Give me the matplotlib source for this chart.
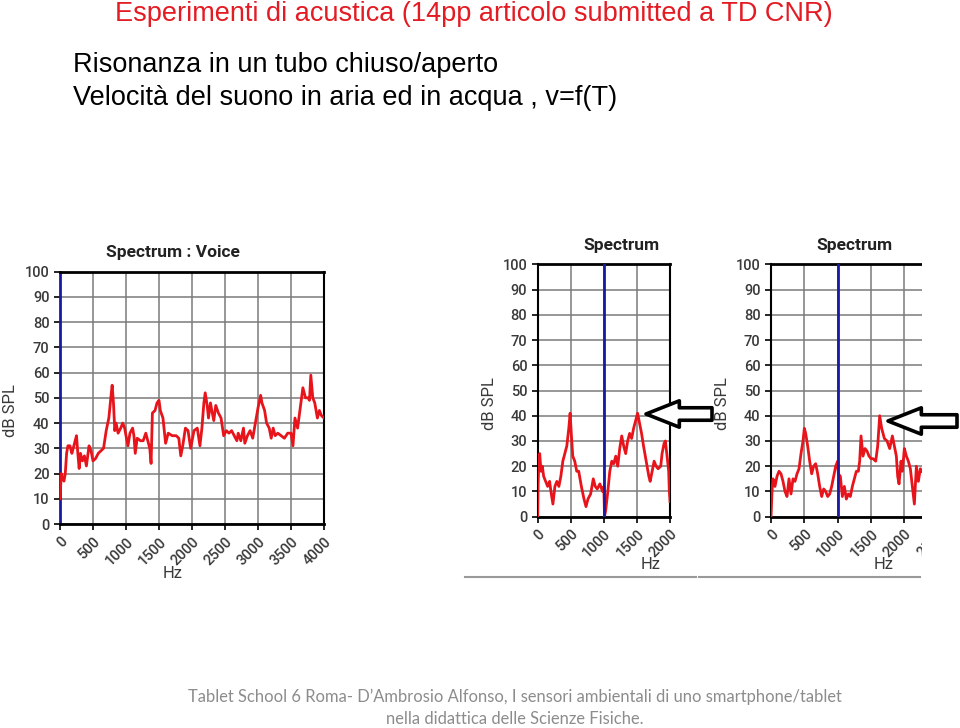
import matplotlib
matplotlib.use("Agg")
import matplotlib.pyplot as plt
from matplotlib.lines import Line2D
from matplotlib.patches import Rectangle
from matplotlib.text import Annotation

# voice spectrum (Hz, dB SPL)
f1 = [0, 20, 40, 60, 80, 100, 120, 150, 180, 200, 230, 250, 270, 290, 310, 340, 370, 400, 420, 440,
      470, 500, 540, 580, 620, 660, 700, 740, 770, 790, 810, 830, 850, 880, 920, 950, 980, 1000, 1030,
      1060, 1100, 1120, 1140, 1170, 1220, 1260, 1300, 1330, 1360, 1380, 1400, 1440, 1470, 1500, 1520,
      1560, 1600, 1640, 1700, 1760, 1800, 1830, 1860, 1900, 1940, 1980, 2030, 2080, 2120, 2150, 2180,
      2200, 2230, 2250, 2280, 2300, 2330, 2360, 2400, 2440, 2480, 2520, 2560, 2600, 2640, 2680, 2700,
      2740, 2780, 2800, 2840, 2880, 2920, 2960, 3000, 3040, 3060, 3100, 3130, 3170, 3200, 3230, 3260,
      3300, 3350, 3400, 3450, 3500, 3530, 3560, 3600, 3640, 3680, 3720, 3760, 3780, 3800, 3830, 3860,
      3900, 3930, 3960, 4000]
db1 = [10, 20, 18, 17, 20, 28, 31, 31, 28, 30, 33, 35, 28, 22, 28, 25, 27, 23, 27, 31,
       29, 25, 26, 28, 29, 30, 37, 42, 50, 55, 48, 37, 40, 36, 38, 40, 38, 35, 31,
       36, 38, 35, 28, 34, 33, 33, 36, 33, 30, 24, 44, 45, 48, 49, 45,
       42, 32, 36, 35, 35, 34, 27, 31, 38, 37, 30, 37, 38, 31, 38, 48,
       52, 47, 42, 48, 45, 41, 47, 44, 42, 35, 37, 36, 37, 35, 33, 36,
       33, 38, 32, 35, 37, 34, 40, 46, 51, 48, 45, 40, 38, 34, 38, 35,
       36, 35, 34, 36, 36, 31, 42, 38, 46, 54, 50, 50, 49, 59, 50, 48,
       42, 45, 43, 42]

# tube spectrum 1
f2 = [0, 5, 15, 30, 50, 70, 90, 120, 150, 180, 200, 230, 260, 290, 320, 350, 380, 410, 440, 470,
      490, 510, 530, 560, 590, 620, 660, 700, 730, 760, 800, 840, 870, 900, 940, 980, 1000, 1010,
      1030, 1060, 1090, 1120, 1150, 1180, 1210, 1240, 1270, 1300, 1330, 1360, 1390, 1420, 1450,
      1480, 1510, 1540, 1570, 1600, 1640, 1680, 1700, 1730, 1760, 1790, 1820, 1860, 1880, 1910,
      1930, 1960, 1980, 1990, 2000]
db2 = [0, 12, 20, 25, 18, 20, 16, 14, 12, 14, 10, 5, 12, 14, 12, 16, 22, 25, 28, 35,
       41, 32, 24, 22, 18, 18, 12, 7, 4, 7, 9, 15, 12, 11, 13, 10, 12, 0,
       3, 10, 18, 22, 21, 24, 20, 27, 32, 28, 25, 30, 33, 31, 35,
       38, 41, 37, 33, 28, 22, 16, 14, 18, 22, 20, 19, 20, 25, 29,
       30, 23, 18, 10, 6]

# tube spectrum 2
f3 = [0, 15, 30, 60, 90, 120, 150, 180, 210, 240, 270, 300, 330, 360, 390, 420, 450, 480, 500, 520,
      550, 580, 610, 640, 670, 700, 730, 760, 790, 820, 850, 880, 910, 940, 970, 1000, 1010, 1040,
      1070, 1100, 1130, 1160, 1190, 1220, 1250, 1280, 1310, 1330, 1350, 1380, 1410, 1440, 1470,
      1500, 1530, 1570, 1600, 1630, 1660, 1700, 1740, 1780, 1820, 1850, 1880, 1900, 1920, 1950,
      1970, 2000, 2030, 2060, 2090, 2120, 2150, 2180, 2210, 2240, 2260]
db3 = [0, 10, 15, 12, 16, 18, 17, 14, 10, 8, 15, 9, 15, 14, 17, 19, 25, 30, 35, 33,
       28, 22, 17, 20, 21, 17, 12, 8, 11, 10, 8, 9, 12, 16, 20, 22, 17, 16,
       8, 12, 7, 9, 8, 12, 15, 18, 18, 22, 32, 24, 27, 26, 24,
       23, 23, 22, 28, 40, 35, 31, 30, 27, 32, 28, 24, 16, 13, 22,
       18, 27, 24, 22, 19, 12, 5, 20, 14, 19, 18]

W, H = 960, 728
fig = plt.figure(figsize=(9.6, 7.28), dpi=100)
fig.patch.set_facecolor("white")

red = "#e8141b"
tick_col = "#3a3a3a"


def px(x, y):
    return x / W, 1 - y / H


def spectrum(rect, f, db, xmax, blue_x, title, title_x, hz_x, hz_y, yl_x):
    ax = fig.add_axes(rect)
    ax.plot(f, db, color=red, lw=2, zorder=3)
    ax.set_xlim(0, xmax)
    ax.set_ylim(0, 100)
    ax.set_xticks(range(0, int(xmax) + 1, 500))
    ax.set_yticks(range(0, 101, 10))
    ax.grid(True, color="#7a7a7a", lw=1.1)
    ax.set_axisbelow(True)
    for s in ["top", "bottom"]:
        ax.spines[s].set_linewidth(2)
        ax.spines[s].set_color("black")
    ax.spines["right"].set_linewidth(1.5)
    ax.spines["left"].set_linewidth(1.5)
    if blue_x == 0:
        ax.spines["left"].set_color("#1a1aa0")
        ax.spines["left"].set_linewidth(2)
    else:
        ax.axvline(blue_x, color="#1a1aa0", lw=2, zorder=4)
    ax.tick_params(colors=tick_col, labelsize=10.5, length=4, width=1.2)
    ax.tick_params(axis="both", color="black")
    for t in ax.get_yticklabels() + ax.get_xticklabels():
        t.set_fontfamily("Roboto")
        t.set_fontweight("medium")
    plt.setp(ax.get_xticklabels(), rotation=45, ha="right", rotation_mode="anchor")
    ax.set_xlabel("Hz", fontsize=12, color=tick_col, family="Roboto")
    ax.xaxis.set_label_coords(hz_x, hz_y)
    ax.set_ylabel("dB SPL", fontsize=12, color=tick_col, family="Roboto")
    ax.yaxis.set_label_coords(yl_x, 0.45)
    ax.text(title_x, 1.075, title, transform=ax.transAxes, ha="center", va="center",
            fontsize=12.5, fontweight="bold", family="Roboto", color="#222222")
    return ax


ax1 = spectrum([60 / W, 1 - 524 / H, 264 / W, 252.3 / H], f1, db1, 4000, 0,
               "Spectrum : Voice", 0.428, 0.428, -0.166, -0.159)
ax2 = spectrum([537.7 / W, 1 - 516.7 / H, 132.3 / W, 252.4 / H], f2, db2, 2000, 1000,
               "Spectrum", 0.63, 0.856, -0.16, -0.308)
ax3 = spectrum([771 / W, 1 - 516.7 / H, 166.7 / W, 252.4 / H], f3, db3, 2500, 1000,
               "Spectrum", 0.5, 0.678, -0.16, -0.246)

# the third screenshot is cropped on the right
fig.add_artist(Rectangle(px(922, 600), 40 / W, 380 / H, transform=fig.transFigure,
                         facecolor="white", edgecolor="none", zorder=5))

# separator lines under the screenshots
fig.add_artist(Line2D([465 / W, 696 / W], [1 - 577 / H] * 2, color="#9a9a9a", lw=1.5))
fig.add_artist(Line2D([699 / W, 920 / W], [1 - 577 / H] * 2, color="#9a9a9a", lw=1.5))

# hollow arrows pointing at the peaks
arrow = dict(arrowstyle="simple,head_length=2.4,head_width=1.9,tail_width=0.9",
             fc="white", ec="black", lw=2.6, mutation_scale=10, shrinkA=0, shrinkB=0)
for tip, tail, yy in [(646, 712, 414), (888, 957, 421)]:
    a = Annotation("", xy=(tip, H - yy), xytext=(tail, H - yy),
                   xycoords="figure pixels", textcoords="figure pixels",
                   arrowprops=arrow, annotation_clip=False)
    a.set_zorder(6)
    fig.add_artist(a)

# slide text
fig.text(*px(115, 14), "Esperimenti di acustica (14pp articolo submitted a TD CNR)",
         color="#e31b23", fontsize=19.5, family="Liberation Sans", va="center")
fig.text(*px(73, 65), "Risonanza in un tubo chiuso/aperto",
         color="black", fontsize=19.5, family="Liberation Sans", va="center")
fig.text(*px(73, 98), "Velocità del suono in aria ed in acqua , v=f(T)",
         color="black", fontsize=19.5, family="Liberation Sans", va="center")
fig.text(*px(515, 697),
         "Tablet School 6 Roma- D\u2019Ambrosio Alfonso, I sensori ambientali di uno smartphone/tablet",
         color="#8c8c8c", fontsize=11.9, family="Lato", ha="center", va="center")
fig.text(*px(515, 719), "nella didattica delle Scienze Fisiche.",
         color="#8c8c8c", fontsize=11.9, family="Lato", ha="center", va="center")

fig.savefig("out.png", dpi=100)
